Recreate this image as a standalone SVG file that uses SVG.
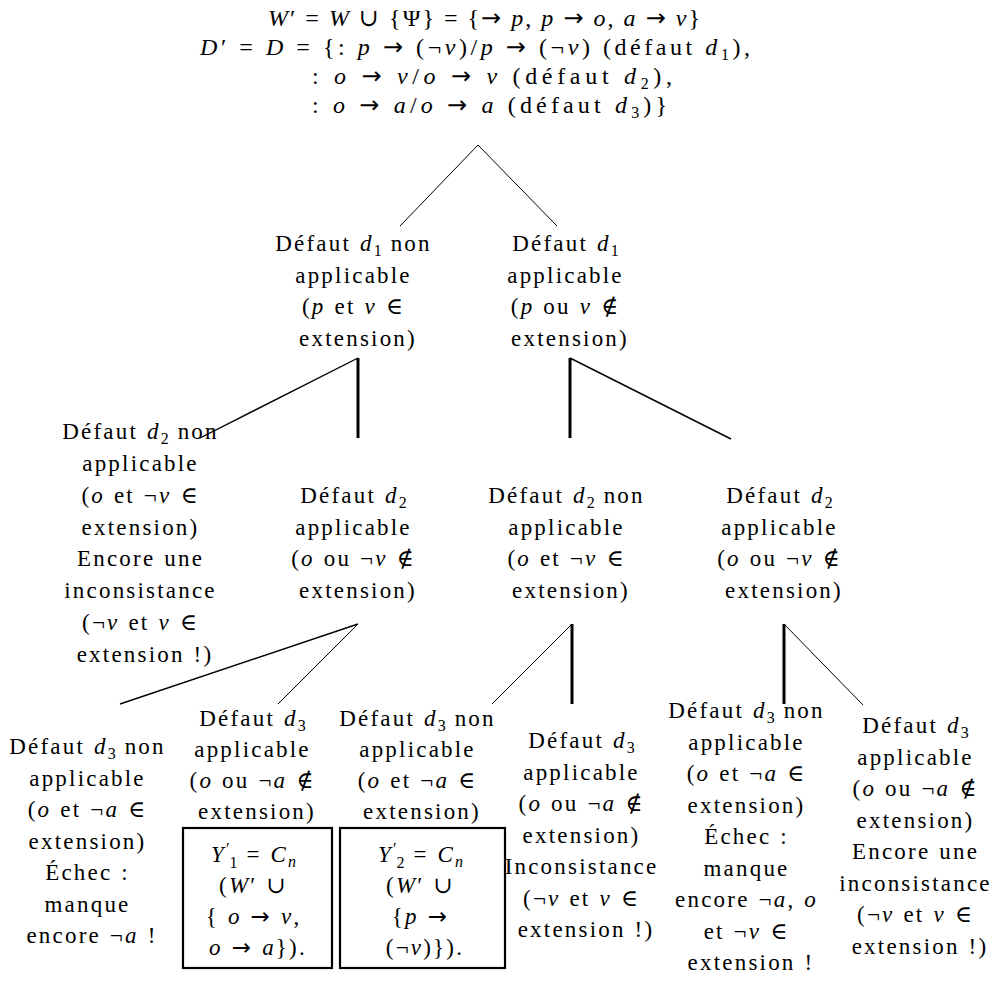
<svg xmlns="http://www.w3.org/2000/svg" width="1001" height="981" viewBox="0 0 1001 981">
<style>
text{font-family:"Liberation Serif","DejaVu Serif",serif;font-size:23px;fill:#000}
.n{text-anchor:middle;letter-spacing:2.2px;word-spacing:1px}
.h{letter-spacing:0;font-size:24px}
.i{font-style:italic}
.s{font-size:16px;letter-spacing:0}
.ar{font-family:"DejaVu Sans",sans-serif;font-style:normal}
.c line{stroke:#000;stroke-width:1;fill:none}
.c line.m{stroke-width:1.4}
.c line.k{stroke-width:3}
.box{fill:none;stroke:#000;stroke-width:2.2}
</style>
<rect width="1001" height="981" fill="#fff"/>

<g id="connectors" class="c">
<line x1="478" y1="145" x2="400" y2="226"/>
<line x1="478" y1="145" x2="557" y2="226"/>
<line class="m" x1="358" y1="358" x2="200" y2="438"/>
<line class="k" x1="358" y1="358" x2="358" y2="438"/>
<line class="k" x1="570" y1="358" x2="570" y2="438"/>
<line class="m" x1="570" y1="358" x2="731" y2="439"/>
<line class="m" x1="358" y1="624" x2="120" y2="704"/>
<line x1="358" y1="624" x2="278" y2="704"/>
<line x1="572" y1="624" x2="492" y2="704"/>
<line class="k" x1="572" y1="624" x2="572" y2="704"/>
<line class="k" x1="784" y1="624" x2="784" y2="704"/>
<line x1="784" y1="624" x2="863" y2="705"/>
</g>

<g id="header">
<text class="h" x="268" y="26" textLength="432" lengthAdjust="spacing"><tspan class="i">W</tspan>′ = <tspan class="i">W</tspan> ∪ {Ψ} = {<tspan class="ar">→</tspan> <tspan class="i">p</tspan>, <tspan class="i">p</tspan> <tspan class="ar">→</tspan> <tspan class="i">o</tspan>, <tspan class="i">a</tspan> <tspan class="ar">→</tspan> <tspan class="i">v</tspan>}</text>
<text class="h" x="200" y="55" textLength="550" lengthAdjust="spacing"><tspan class="i">D</tspan>′ = <tspan class="i">D</tspan> = {:  <tspan class="i">p</tspan> <tspan class="ar">→</tspan> (¬<tspan class="i">v</tspan>)/<tspan class="i">p</tspan> <tspan class="ar">→</tspan> (¬<tspan class="i">v</tspan>) (défaut <tspan class="i">d</tspan><tspan class="s" dy="5">1</tspan><tspan dy="-5">),</tspan></text>
<text class="h" x="312" y="84" textLength="360" lengthAdjust="spacing">:  <tspan class="i">o</tspan> <tspan class="ar">→</tspan> <tspan class="i">v</tspan>/<tspan class="i">o</tspan> <tspan class="ar">→</tspan> <tspan class="i">v</tspan> (défaut <tspan class="i">d</tspan><tspan class="s" dy="5">2</tspan><tspan dy="-5">),</tspan></text>
<text class="h" x="312" y="113" textLength="355" lengthAdjust="spacing">:  <tspan class="i">o</tspan> <tspan class="ar">→</tspan> <tspan class="i">a</tspan>/<tspan class="i">o</tspan> <tspan class="ar">→</tspan> <tspan class="i">a</tspan> (défaut <tspan class="i">d</tspan><tspan class="s" dy="5">3</tspan><tspan dy="-5">)}</tspan></text>
</g>

<g id="d1-non">
<text class="n">
<tspan x="358" y="251">Défaut <tspan class="i">d</tspan><tspan class="s" dy="5">1</tspan><tspan dy="-5"> non</tspan></tspan>
<tspan x="358" y="282.5">applicable</tspan>
<tspan x="358" y="314">(<tspan class="i">p</tspan> et <tspan class="i">v</tspan> ∈</tspan>
<tspan x="358" y="345.5">extension)</tspan>
</text>
</g>

<g id="d1-app">
<text class="n">
<tspan x="570" y="251">Défaut <tspan class="i">d</tspan><tspan class="s" dy="5">1</tspan></tspan>
<tspan x="570" y="282.5">applicable</tspan>
<tspan x="570" y="314">(<tspan class="i">p</tspan> ou <tspan class="i">v</tspan> ∉</tspan>
<tspan x="570" y="345.5">extension)</tspan>
</text>
</g>

<g id="d2-non-a">
<text class="n">
<tspan x="145" y="439">Défaut <tspan class="i">d</tspan><tspan class="s" dy="5">2</tspan><tspan dy="-5"> non</tspan></tspan>
<tspan x="145" y="471">applicable</tspan>
<tspan x="145" y="503">(<tspan class="i">o</tspan> et ¬<tspan class="i">v</tspan> ∈</tspan>
<tspan x="145" y="535">extension)</tspan>
<tspan x="145" y="566">Encore une</tspan>
<tspan x="145" y="598">inconsistance</tspan>
<tspan x="145" y="630">(¬<tspan class="i">v</tspan> et <tspan class="i">v</tspan> ∈</tspan>
<tspan x="145" y="662">extension !)</tspan>
</text>
</g>

<g id="d2-app-a">
<text class="n">
<tspan x="358" y="503">Défaut <tspan class="i">d</tspan><tspan class="s" dy="5">2</tspan></tspan>
<tspan x="358" y="535">applicable</tspan>
<tspan x="358" y="566">(<tspan class="i">o</tspan> ou ¬<tspan class="i">v</tspan> ∉</tspan>
<tspan x="358" y="598">extension)</tspan>
</text>
</g>

<g id="d2-non-b">
<text class="n">
<tspan x="571" y="503">Défaut <tspan class="i">d</tspan><tspan class="s" dy="5">2</tspan><tspan dy="-5"> non</tspan></tspan>
<tspan x="571" y="535">applicable</tspan>
<tspan x="571" y="566">(<tspan class="i">o</tspan> et ¬<tspan class="i">v</tspan> ∈</tspan>
<tspan x="571" y="598">extension)</tspan>
</text>
</g>

<g id="d2-app-b">
<text class="n">
<tspan x="784" y="503">Défaut <tspan class="i">d</tspan><tspan class="s" dy="5">2</tspan></tspan>
<tspan x="784" y="535">applicable</tspan>
<tspan x="784" y="566">(<tspan class="i">o</tspan> ou ¬<tspan class="i">v</tspan> ∉</tspan>
<tspan x="784" y="598">extension)</tspan>
</text>
</g>

<g id="d3-n1">
<text class="n">
<tspan x="92" y="754">Défaut <tspan class="i">d</tspan><tspan class="s" dy="5">3</tspan><tspan dy="-5"> non</tspan></tspan>
<tspan x="92" y="785.5">applicable</tspan>
<tspan x="92" y="817">(<tspan class="i">o</tspan> et ¬<tspan class="i">a</tspan> ∈</tspan>
<tspan x="92" y="848.5">extension)</tspan>
<tspan x="92" y="880">Échec :</tspan>
<tspan x="92" y="911.5">manque</tspan>
<tspan x="92" y="943">encore ¬<tspan class="i">a</tspan> !</tspan>
</text>
</g>

<g id="d3-n2">
<text class="n">
<tspan x="257" y="726">Défaut <tspan class="i">d</tspan><tspan class="s" dy="5">3</tspan></tspan>
<tspan x="257" y="757">applicable</tspan>
<tspan x="257" y="788">(<tspan class="i">o</tspan> ou ¬<tspan class="i">a</tspan> ∉</tspan>
<tspan x="257" y="819">extension)</tspan>
</text>
<rect class="box" x="183" y="828" width="149" height="140"/>
<text class="n">
<tspan x="258" y="862"><tspan class="i">Y</tspan><tspan class="s" dy="-8">′</tspan><tspan class="s" dy="14">1</tspan><tspan dy="-6"> = </tspan><tspan class="i">C</tspan><tspan class="s i" dy="5">n</tspan></tspan>
<tspan x="258" y="893">(<tspan class="i">W</tspan>′ ∪</tspan>
<tspan x="258" y="924">{ <tspan class="i">o</tspan> <tspan class="ar">→</tspan> <tspan class="i">v</tspan>,</tspan>
<tspan x="258" y="955"><tspan class="i">o</tspan> <tspan class="ar">→</tspan> <tspan class="i">a</tspan>}).</tspan>
</text>
</g>

<g id="d3-n3">
<text class="n">
<tspan x="422" y="726">Défaut <tspan class="i">d</tspan><tspan class="s" dy="5">3</tspan><tspan dy="-5"> non</tspan></tspan>
<tspan x="422" y="757">applicable</tspan>
<tspan x="422" y="788">(<tspan class="i">o</tspan> et ¬<tspan class="i">a</tspan> ∈</tspan>
<tspan x="422" y="819">extension)</tspan>
</text>
<rect class="box" x="340" y="828" width="165" height="140"/>
<text class="n">
<tspan x="425" y="862"><tspan class="i">Y</tspan><tspan class="s" dy="-8">′</tspan><tspan class="s" dy="14">2</tspan><tspan dy="-6"> = </tspan><tspan class="i">C</tspan><tspan class="s i" dy="5">n</tspan></tspan>
<tspan x="425" y="893">(<tspan class="i">W</tspan>′ ∪</tspan>
<tspan x="425" y="924">{<tspan class="i">p</tspan> <tspan class="ar">→</tspan></tspan>
<tspan x="425" y="955">(¬<tspan class="i">v</tspan>)}).</tspan>
</text>
</g>

<g id="d3-n4">
<text class="n">
<tspan x="586" y="748">Défaut <tspan class="i">d</tspan><tspan class="s" dy="5">3</tspan></tspan>
<tspan x="586" y="779.5">applicable</tspan>
<tspan x="586" y="811">(<tspan class="i">o</tspan> ou ¬<tspan class="i">a</tspan> ∉</tspan>
<tspan x="586" y="842.5">extension)</tspan>
<tspan x="586" y="874">Inconsistance</tspan>
<tspan x="586" y="905.5">(¬<tspan class="i">v</tspan> et <tspan class="i">v</tspan> ∈</tspan>
<tspan x="586" y="937">extension !)</tspan>
</text>
</g>

<g id="d3-n5">
<text class="n">
<tspan x="751" y="718">Défaut <tspan class="i">d</tspan><tspan class="s" dy="5">3</tspan><tspan dy="-5"> non</tspan></tspan>
<tspan x="751" y="749.5">applicable</tspan>
<tspan x="751" y="781">(<tspan class="i">o</tspan> et ¬<tspan class="i">a</tspan> ∈</tspan>
<tspan x="751" y="812.5">extension)</tspan>
<tspan x="751" y="844">Échec :</tspan>
<tspan x="751" y="875.5">manque</tspan>
<tspan x="751" y="907">encore ¬<tspan class="i">a</tspan>, <tspan class="i">o</tspan></tspan>
<tspan x="751" y="938.5">et ¬<tspan class="i">v</tspan> ∈</tspan>
<tspan x="751" y="970">extension  !</tspan>
</text>
</g>

<g id="d3-n6">
<text class="n">
<tspan x="920" y="733">Défaut <tspan class="i">d</tspan><tspan class="s" dy="5">3</tspan></tspan>
<tspan x="920" y="764.5">applicable</tspan>
<tspan x="920" y="796">(<tspan class="i">o</tspan> ou ¬<tspan class="i">a</tspan> ∉</tspan>
<tspan x="920" y="827.5">extension)</tspan>
<tspan x="920" y="859">Encore une</tspan>
<tspan x="920" y="890.5">inconsistance</tspan>
<tspan x="920" y="922">(¬<tspan class="i">v</tspan> et <tspan class="i">v</tspan> ∈</tspan>
<tspan x="920" y="953.5">extension !)</tspan>
</text>
</g>
</svg>
